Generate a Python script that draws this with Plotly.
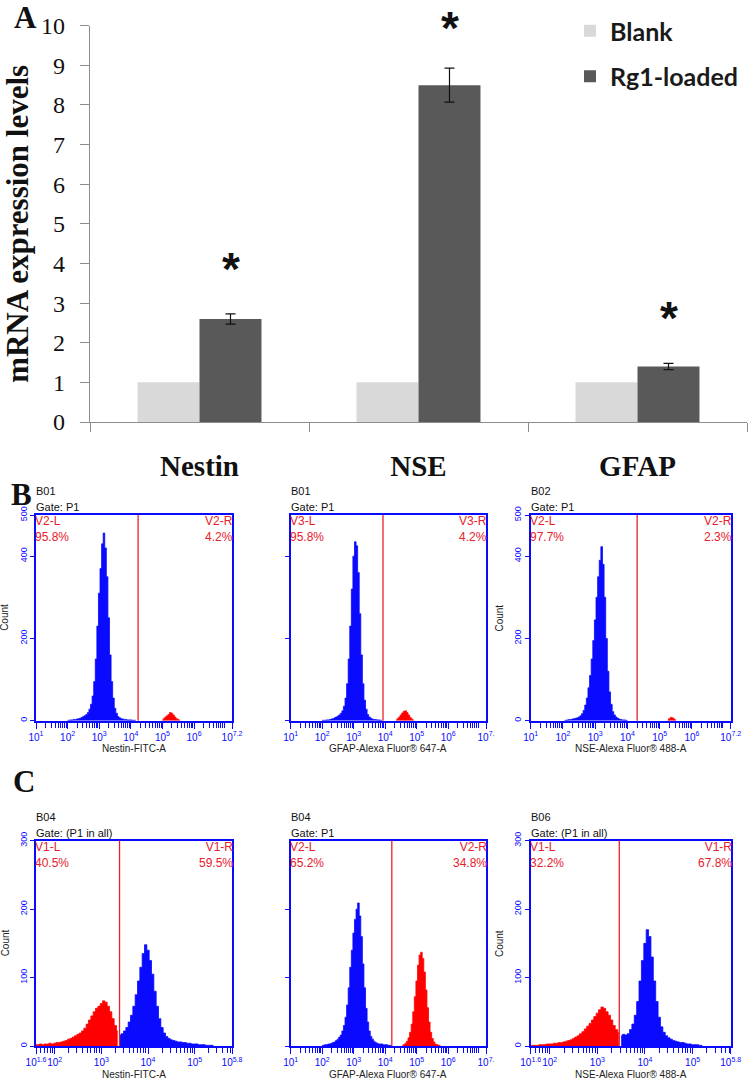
import plotly.graph_objects as go
import numpy as np

# ---------------- Panel A data ----------------
genes = ["Nestin", "NSE", "GFAP"]
blank = [1.0, 1.0, 1.0]
rg1 = [2.6, 8.5, 1.4]
rg1_err = [0.13, 0.43, 0.08]
yticks_A = list(range(0, 11))

# ---------------- Flow histograms (counts per 0.05-decade bin) ----------------
BIN = 0.05
# B01 Nestin
b1_blue_start = 2.00
b1_blue = [1, 1, 2, 2, 3, 3, 4, 5, 6, 8, 10, 12, 15, 20, 28, 40, 60, 95, 150, 230,
           310, 370, 430, 456, 420, 350, 250, 160, 95, 55, 30, 18, 10, 7, 5, 4, 3, 3,
           2, 2, 2, 1, 1, 1]
b1_red_start = 5.00
b1_red = [2, 5, 9, 12, 15, 20, 18, 14, 9, 5, 3, 1]
# B01 GFAP
b2_blue_start = 2.00
b2_blue = [1, 1, 1, 2, 2, 3, 4, 5, 7, 9, 11, 14, 18, 24, 35, 55, 90, 150, 230, 320,
           400, 435, 425, 360, 260, 160, 90, 50, 28, 15, 9, 6, 4, 3, 3, 2, 2, 1, 1]
b2_red_start = 4.35
b2_red = [2, 5, 9, 14, 19, 23, 24, 20, 14, 8, 4, 2]
# B02 NSE
b3_blue_start = 2.05
b3_blue = [1, 1, 2, 3, 3, 4, 5, 6, 7, 9, 12, 17, 25, 38, 55, 80, 110, 150, 195, 245,
           300, 350, 390, 423, 380, 300, 200, 120, 70, 40, 22, 14, 9, 6, 4, 3, 2, 2, 1, 1]
b3_red_start = 5.25
b3_red = [2, 5, 8, 7, 4, 2]
# B04 Nestin
c1_red_start = 1.60
c1_red = [2, 2, 3, 2, 3, 3, 4, 3, 4, 5, 5, 6, 7, 8, 10, 11, 13, 15, 17, 19, 22, 26,
          32, 38, 44, 50, 55, 58, 62, 66, 64, 58, 50, 40, 30, 22]
c1_blue_start = 3.40
c1_blue = [16, 18, 22, 27, 35, 45, 58, 75, 95, 115, 135, 148, 140, 125, 105, 80, 58,
           40, 27, 19, 14, 11, 9, 8, 7, 6, 6, 5, 5, 4, 4, 3, 3, 3, 2, 2, 2, 1, 1, 1, 1]
# B04 GFAP
c2_blue_start = 2.00
c2_blue = [1, 1, 2, 2, 3, 3, 4, 5, 6, 8, 10, 13, 16, 22, 30, 42, 60, 85, 115, 140,
           165, 185, 200, 209, 190, 160, 120, 85, 55, 35, 22, 14, 10, 7, 5, 4, 3, 3, 3,
           2, 2, 2, 1, 1, 1]
c2_red_start = 4.55
c2_red = [1, 2, 4, 7, 12, 20, 32, 50, 72, 95, 118, 133, 137, 128, 108, 82, 56, 35,
          20, 11, 6, 3, 2, 1, 1]
# B06 NSE
c3_red_start = 1.60
c3_red = [1, 1, 1, 1, 2, 2, 2, 3, 3, 3, 4, 4, 5, 5, 6, 7, 8, 9, 11, 13, 15, 18, 21,
          25, 29, 33, 38, 43, 48, 53, 57, 55, 50, 45, 38, 30, 24, 20]
c3_blue_start = 3.50
c3_blue = [15, 17, 16, 18, 24, 32, 45, 65, 95, 125, 150, 170, 160, 130, 95, 65, 42,
           28, 20, 15, 12, 10, 8, 7, 6, 5, 5, 4, 3, 3, 2, 2, 2, 1, 1]

panels = [
    dict(sample="B01", gate="Gate: P1", xtitle="Nestin-FITC-A", xr=[1, 7.2], xlast="7.2",
         ymax=500, yt=[0, 200, 400, 500], ylab=True, cut=4.23,
         lname="V2-L", lpct="95.8%", rname="V2-R", rpct="4.2%",
         series=[("blue", b1_blue_start, b1_blue), ("red", b1_red_start, b1_red)]),
    dict(sample="B01", gate="Gate: P1", xtitle="GFAP-Alexa Fluor\u00ae 647-A", xr=[1, 7.2], xlast="7.",
         ymax=500, yt=[0, 200, 400], ylab=False, cut=3.93,
         lname="V3-L", lpct="95.8%", rname="V3-R", rpct="4.2%",
         series=[("blue", b2_blue_start, b2_blue), ("red", b2_red_start, b2_red)]),
    dict(sample="B02", gate="Gate: P1", xtitle="NSE-Alexa Fluor\u00ae 488-A", xr=[1, 7.2], xlast="7.2",
         ymax=500, yt=[0, 200, 400, 500], ylab=True, cut=4.30,
         lname="V2-L", lpct="97.7%", rname="V2-R", rpct="2.3%",
         series=[("blue", b3_blue_start, b3_blue), ("red", b3_red_start, b3_red)]),
    dict(sample="B04", gate="Gate: (P1 in all)", xtitle="Nestin-FITC-A", xr=[1.6, 5.8], xlast="5.8",
         ymax=300, yt=[0, 100, 200, 300], ylab=True, cut=3.39,
         lname="V1-L", lpct="40.5%", rname="V1-R", rpct="59.5%",
         series=[("red", c1_red_start, c1_red), ("blue", c1_blue_start, c1_blue)]),
    dict(sample="B04", gate="Gate: P1", xtitle="GFAP-Alexa Fluor\u00ae 647-A", xr=[1, 7.2], xlast="7.",
         ymax=300, yt=[0, 100, 200], ylab=False, cut=4.21,
         lname="V2-L", lpct="65.2%", rname="V2-R", rpct="34.8%",
         series=[("blue", c2_blue_start, c2_blue), ("red", c2_red_start, c2_red)]),
    dict(sample="B06", gate="Gate: (P1 in all)", xtitle="NSE-Alexa Fluor\u00ae 488-A", xr=[1.6, 5.8], xlast="5.8",
         ymax=300, yt=[0, 100, 200, 300], ylab=True, cut=3.46,
         lname="V1-L", lpct="32.2%", rname="V1-R", rpct="67.8%",
         series=[("red", c3_red_start, c3_red), ("blue", c3_blue_start, c3_blue)]),
]

W, H = 755, 1081
def px(x):
    return x / W
def py(y):
    return 1 - y / H

# subplot frames in pixels (left, right, top, bottom)
frames = [
    (36, 232, 515, 720.7), (290.7, 486, 515, 720.7), (530.7, 730.7, 515, 720.7),
    (36, 232, 840.7, 1046), (290.7, 486, 840.7, 1046), (530.7, 730.7, 840.7, 1046),
]

SERIF = "Liberation Serif"
SANS = "Liberation Sans"
BLUE = "#0a0aff"
RED = "#e8202a"
FLOWRED = "#ff0000"

fig = go.Figure()

# ---------------- Panel A ----------------
fig.add_trace(go.Bar(x=genes, y=blank, name="Blank", marker=dict(color="#d9d9d9", line=dict(width=0)),
                     legendgroup="g1", xaxis="x", yaxis="y"))
fig.add_trace(go.Bar(x=genes, y=rg1, name="Rg1-loaded", marker=dict(color="#595959", line=dict(width=0)),
                     error_y=dict(type="data", array=rg1_err, color="#111111", thickness=1.2, width=5),
                     legendgroup="g2", xaxis="x", yaxis="y"))

annotations = []
star_lift = [45, 40, 45]
for g, v, e, s in zip(genes, rg1, rg1_err, star_lift):
    annotations.append(dict(x=g, y=v + e, xref="x", yref="y", text="*", showarrow=False,
                            xshift=31, yshift=s, yanchor="middle",
                            font=dict(family=SANS, size=46, color="#111111", weight="bold")))

layout = dict(
    template="none",
    width=W, height=H, autosize=False,
    margin=dict(l=0, r=0, t=0, b=0, pad=0),
    paper_bgcolor="white", plot_bgcolor="white",
    barmode="group", bargap=0.434, bargroupgap=0,
    showlegend=True,
    legend=dict(x=px(570), y=py(8), xanchor="left", yanchor="top",
                font=dict(family="Lato", size=25, color="#1a1a1a", weight="bold"),
                bgcolor="rgba(0,0,0,0)", tracegroupgap=10, itemwidth=30,
                traceorder="grouped"),
    xaxis=dict(domain=[px(90), px(747)], anchor="y", type="category", range=[-0.5, 2.5],
               automargin=False,
               showline=True, linecolor="#8c8c8c", linewidth=1.3,
               ticks="outside", tickson="boundaries", ticklen=9, tickcolor="#8c8c8c",
               showgrid=False, ticklabelstandoff=18,
               tickfont=dict(family=SERIF, size=29, color="#111111", weight="bold")),
    yaxis=dict(domain=[py(422), py(25.7)], anchor="x", range=[0, 10], tickvals=yticks_A,
               automargin=False,
               showline=True, linecolor="#8c8c8c", linewidth=1.3,
               ticks="outside", ticklen=9, tickcolor="#8c8c8c", showgrid=False, zeroline=False,
               ticklabelstandoff=10,
               tickfont=dict(family=SERIF, size=24, color="#111111"),
               title=dict(text="mRNA expression levels", standoff=13,
                          font=dict(family=SERIF, size=31, color="#111111", weight="bold"))),
)

# panel letters
for letter, x, y in [("A", 25, 17), ("B", 21, 494), ("C", 24, 781)]:
    annotations.append(dict(x=px(x), y=py(y), xref="paper", yref="paper", text=letter,
                            showarrow=False, xanchor="center", yanchor="middle",
                            font=dict(family=SERIF, size=31, color="#111111", weight="bold")))

shapes = []
for i, (p, fr) in enumerate(zip(panels, frames)):
    n = i + 2
    xa, ya = f"x{n}", f"y{n}"
    l, r, t, b = fr
    for color, start, counts in p["series"]:
        xs = [start + BIN * k for k in range(len(counts))]
        c = BLUE if color == "blue" else FLOWRED
        fig.add_trace(go.Scatter(x=xs, y=counts, mode="lines", line=dict(color=c, width=0.8, shape="hvh"),
                                 fill="tozeroy", fillcolor=c, showlegend=False, hoverinfo="skip",
                                 xaxis=xa, yaxis=ya))
    lo, hi = p["xr"]
    majors = [lo] + [d for d in range(int(np.ceil(lo)), int(np.floor(hi)) + 1)
                     if d > lo + 0.01 and d < hi - 0.3] + [hi]
    labels = []
    for m in majors:
        if m == hi:
            labels.append(f"10<sup>{p['xlast']}</sup>")
        elif float(m).is_integer():
            labels.append(f"10<sup>{int(m)}</sup>")
        else:
            labels.append(f"10<sup>{m}</sup>")
    minors = [d + np.log10(k) for d in range(0, 8) for k in range(2, 10) if lo < d + np.log10(k) < hi]
    layout[f"xaxis{n}"] = dict(
        domain=[px(l), px(r)], anchor=ya, range=[lo, hi], showgrid=False, zeroline=False,
        automargin=False,
        showline=True, mirror=True, linecolor=BLUE, linewidth=1.6,
        ticks="outside", ticklen=6, tickwidth=1.2, tickcolor=BLUE,
        tickvals=majors, ticktext=labels, tickangle=0,
        tickfont=dict(family=SANS, size=10, color=BLUE),
        minor=dict(tickmode="array", tickvals=minors, ticks="outside", ticklen=5,
                   tickwidth=1, tickcolor=BLUE, showgrid=False),
    )
    layout[f"yaxis{n}"] = dict(
        domain=[py(b), py(t)], anchor=xa, range=[0, p["ymax"]], showgrid=False, zeroline=False,
        automargin=False,
        showline=True, mirror=True, linecolor=BLUE, linewidth=1.6,
        ticks="outside", ticklen=4, tickwidth=1.2, tickcolor=BLUE,
        tickvals=p["yt"], showticklabels=p["ylab"],
        tickangle=-90, tickfont=dict(family=SANS, size=9, color=BLUE),
    )
    shapes.append(dict(type="line", xref=xa, yref=f"{ya} domain", x0=p["cut"], x1=p["cut"], y0=0, y1=1,
                       line=dict(color=RED, width=1.3)))
    dom_x, dom_y = f"{xa} domain", f"{ya} domain"
    txt = dict(family=SANS, size=11, color="#111111")
    annotations.append(dict(x=0, y=1, xref=dom_x, yref=dom_y, text=p["gate"], showarrow=False,
                            xanchor="left", yanchor="middle", yshift=8, xshift=-2, font=txt))
    annotations.append(dict(x=0, y=1, xref=dom_x, yref=dom_y, text=p["sample"], showarrow=False,
                            xanchor="left", yanchor="middle", yshift=24, xshift=-2, font=txt))
    rtxt = dict(family=SANS, size=12, color=RED)
    annotations.append(dict(x=0, y=1, xref=dom_x, yref=dom_y, text=p["lname"] + "<br>" + p["lpct"],
                            showarrow=False, xanchor="left", yanchor="top", align="left", xshift=-3, yshift=3,
                            font=rtxt))
    annotations.append(dict(x=1, y=1, xref=dom_x, yref=dom_y, text=p["rname"] + "<br>" + p["rpct"],
                            showarrow=False, xanchor="right", yanchor="top", align="right", xshift=3, yshift=3,
                            font=rtxt))
    annotations.append(dict(x=0.5, y=0, xref=dom_x, yref=dom_y, text=p["xtitle"], showarrow=False,
                            xanchor="center", yanchor="middle", yshift=-28, borderpad=0,
                            font=dict(family=SANS, size=10, color="#222222")))
    if p["ylab"]:
        annotations.append(dict(x=px(l - 31), y=0.5, xref="paper", yref=dom_y, text="Count", showarrow=False,
                                textangle=-90, xanchor="center", yanchor="middle",
                                font=dict(family=SANS, size=10, color="#222222")))

layout["annotations"] = annotations
layout["shapes"] = shapes
fig.update_layout(**layout)

fig.write_html("out.html", config={"displayModeBar": False},
               post_script="document.body.style.margin='0';document.body.style.overflow='hidden';")
